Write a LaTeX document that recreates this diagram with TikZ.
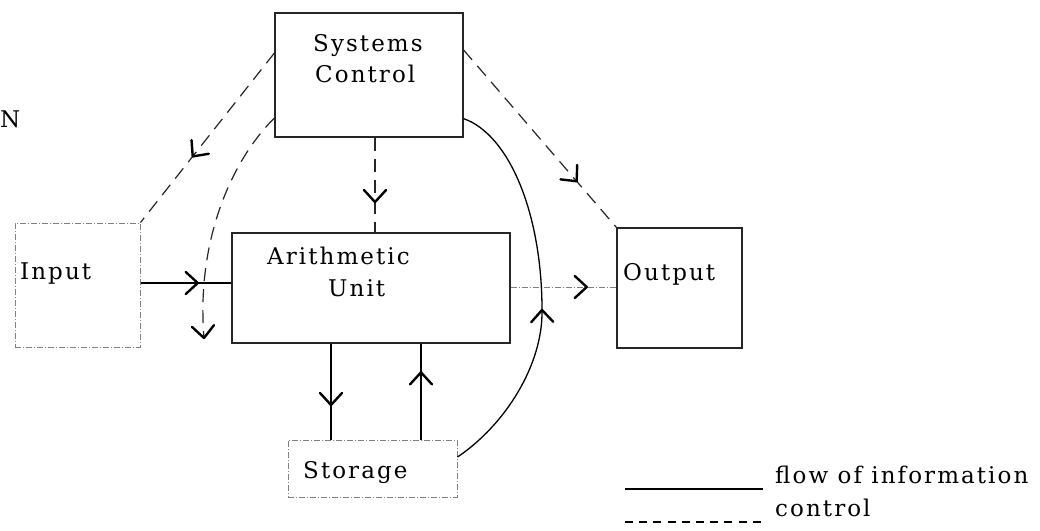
\documentclass[tikz,border=0pt]{standalone}
\usepackage{fontspec}
\setmainfont{DejaVu Serif}[LetterSpace=9]
\usetikzlibrary{decorations.markings,calc}

\tikzset{
  box/.style={draw=black!85, line width=1.2pt, inner sep=0pt},
  faintbox/.style={draw=black!50, line width=1pt, inner sep=0pt,
    dash pattern=on 6pt off 2pt on 1pt off 2pt},
  lbl/.style={font=\fontsize{23}{30}\selectfont, inner sep=0pt},
  flow/.style={draw=black, line width=1.3pt},
  ctrl/.style={draw=black!85, line width=1.2pt, dash pattern=on 13pt off 8pt},
  faintflow/.style={draw=black!50, line width=1pt,
    dash pattern=on 6pt off 2pt on 1pt off 2pt},
  % open V-shaped head whose tip sits at the given position along the path
  barb/.style={decoration={markings, mark=at position #1 with
    {\draw[black, solid, line width=2.4pt, line cap=round, line join=round]
      (-12pt,11pt) -- (0pt,0pt) -- (-12pt,-11pt);}},
    postaction=decorate},
}

\begin{document}
\begin{tikzpicture}[x=1pt,y=-1pt]
\useasboundingbox (0,0) rectangle (1040,530);
\fill[white] (0,0) rectangle (1040,530);

% blocks
\node[box, minimum width=188pt, minimum height=124pt] (sc) at (369,75) {};
\node[box, minimum width=278pt, minimum height=110pt] (au) at (371,288) {};
\node[faintbox, minimum width=125pt, minimum height=124pt] (in) at (77.5,285) {};
\node[box, minimum width=125pt, minimum height=120pt] (out) at (679.5,288) {};
\node[faintbox, minimum width=169pt, minimum height=57pt] (st) at (372.5,468.5) {};

% block labels
\node[lbl, anchor=base west] (scA) at (313,51) {Systems};
\node[lbl, anchor=base west] (scB) at (315,82) {Control};
\node[lbl, anchor=base west] (auA) at (267,264) {Arithmetic};
\node[lbl, anchor=base west] (auB) at (328,296) {Unit};
\node[lbl, anchor=base west] (inL) at (20,279) {Input};
\node[lbl, anchor=base west] (outL) at (623,280) {Output};
\node[lbl, anchor=base west] (stL) at (303,478) {Storage};
\node[lbl, anchor=base west] (nL) at (0,127) {N};

% flow of information
\draw[flow, barb=0.63] ([yshift=2pt]in.east) -- ([yshift=5pt]au.west);
\draw[faintflow, barb=0.72] ([yshift=1pt]au.east) -- ([yshift=1pt]out.west);
\draw[flow, barb=0.64] ([xshift=-40pt]au.south) -- ([xshift=-41.5pt]st.north);
\draw[flow, barb=0.70] ([xshift=48.5pt]st.north) -- ([xshift=50pt]au.south);
\coordinate (jn) at (542,310);
\draw[flow, barb=1] ([yshift=11.5pt]st.east)
  .. controls (505,425) and (543,365) .. (jn);
\draw[flow] (jn) .. controls (542,215) and (510,135) .. ([yshift=19pt]sc.south east);

% control
\draw[ctrl, barb=0.68] ([xshift=6pt]sc.south) -- ([xshift=4pt]au.north);
\draw[ctrl, barb=0.74] ([yshift=25pt]sc.east) -- (out.north west);
\draw[ctrl, barb=0.61] ([yshift=22pt]sc.west) -- (in.north east);
\draw[ctrl, barb=1] ([yshift=-43pt]sc.west)
  .. controls (232,160) and (196,240) .. (204,338);

% legend
\coordinate (lgA) at (625,489);
\coordinate (lgB) at (763,489);
\coordinate (lgC) at (625,522);
\coordinate (lgD) at (763,522);
\draw[flow] (lgA) -- (lgB);
\draw[line width=1.4pt, dash pattern=on 8pt off 6.2pt] (lgC) -- (lgD);
\node[lbl, anchor=base west] (lgT1) at (775,483) {flow of information};
\node[lbl, anchor=base west] (lgT2) at (775,516) {control};
\end{tikzpicture}
\end{document}
